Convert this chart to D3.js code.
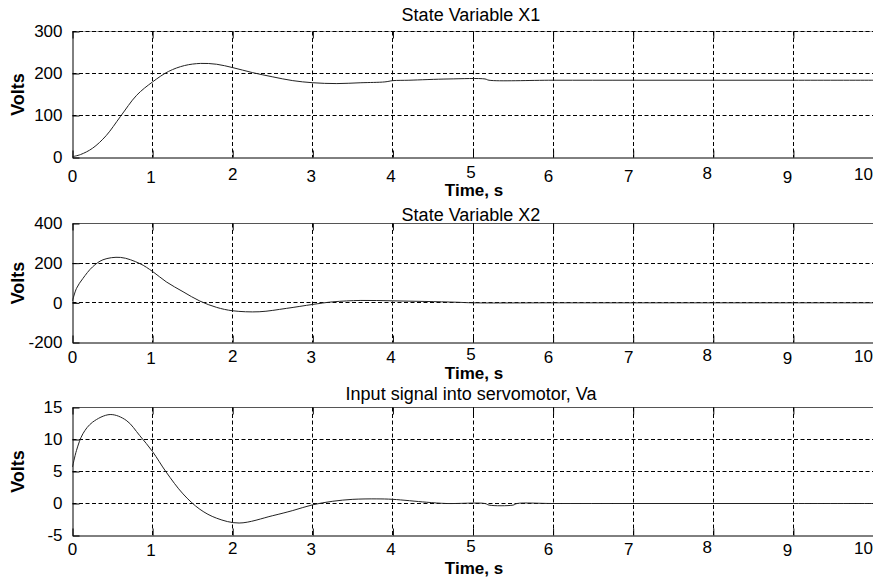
<!DOCTYPE html>
<html>
<head>
<meta charset="utf-8">
<script src="https://cdn.jsdelivr.net/npm/d3@7"></script>
<style>
  body { margin: 0; background: #fff; }
  text { font-family: "Liberation Sans", Arial, sans-serif; fill: #000; }
</style>
</head>
<body>
<div id="chart"></div>
<script>
// values
var timeTicks = [0, 1, 2, 3, 4, 5, 6, 7, 8, 9, 10];

var x1Time  = [0, 0.1, 0.25, 0.42, 0.6, 0.8, 1.0, 1.2, 1.4, 1.6, 1.8, 2.0, 2.25, 2.5, 2.75, 3.0, 3.3, 3.6, 3.9, 4.0, 4.2, 4.7, 5.15, 5.2, 6, 7, 8, 9, 10];
var x1Volts = [2, 7, 22, 52, 98, 148, 180, 205, 219, 224, 222, 214, 202, 192, 183, 178, 176, 178, 180, 183, 184, 187, 187, 184, 184, 184, 184, 184, 184];
var x1Ticks = [0, 100, 200, 300];

var x2Time  = [0, 0.05, 0.13, 0.25, 0.38, 0.6, 0.84, 1.0, 1.17, 1.38, 1.59, 1.8, 2.0, 2.33, 2.67, 3.0, 3.25, 3.6, 4.0, 4.4, 4.8, 5.0, 6, 7, 8, 9, 10];
var x2Volts = [10, 73, 123, 181, 217, 229, 198, 158, 106, 56, 9, -23, -40, -45, -28, -8, 5, 12, 10, 7, 3, 0, 0, 0, 0, 0, 0];
var x2Ticks = [-200, 0, 200, 400];

var vaTime  = [0, 0.05, 0.13, 0.25, 0.47, 0.67, 0.84, 1.0, 1.17, 1.38, 1.59, 1.8, 2.08, 2.5, 2.75, 3.0, 3.25, 3.5, 3.8, 4.0, 4.42, 4.67, 5.15, 5.2, 5.5, 5.55, 6, 7, 8, 9, 10];
var vaVolts = [5.7, 8.3, 10.9, 12.7, 13.9, 13.0, 10.6, 8.1, 4.9, 1.5, -0.9, -2.3, -3.05, -1.9, -1.1, -0.2, 0.35, 0.65, 0.72, 0.65, 0.2, 0, 0, -0.25, -0.25, 0, 0, 0, 0, 0, 0];
var vaTicks = [-5, 0, 5, 10, 15];

var titles = ["State Variable X1", "State Variable X2", "Input signal into servomotor, Va"];

// small label shifts seen in the reference (scanned figure)
var labelDx = [0, -1.5, 0, -1.5, -2, -2, -4.5, -4.5, -6, -6, -10];
var labelDy = [0, 1, -1.5, 0, 0, -3.5, 0, 0, -2.5, 1, -1.5];

var width = 873, height = 579;
var svg = d3.select("#chart").append("svg")
    .attr("width", width)
    .attr("height", height);

var x = d3.scaleLinear().domain([0, 10]).range([72.5, 873.5]);

function zip(t, v) { return t.map(function (d, i) { return { t: d, v: v[i] } }) }

var panels = [
    { title: titles[0], data: zip(x1Time, x1Volts), ticks: x1Ticks, top: 31.5, bottom: 157.5, titleY: 21, labY: 181.5, timeY: 195.5, topGrid: true },
    { title: titles[1], data: zip(x2Time, x2Volts), ticks: x2Ticks, top: 223.5, bottom: 342.5, titleY: 221, labY: 363, timeY: 378.5, topGrid: false },
    { title: titles[2], data: zip(vaTime, vaVolts), ticks: vaTicks, top: 407.5, bottom: 535.5, titleY: 399.5, labY: 555, timeY: 573.5, topGrid: false }
];

panels.forEach(function (p) {
    var ext = d3.extent(p.ticks);
    var y = d3.scaleLinear().domain(ext).range([p.bottom, p.top]);
    var g = svg.append("g");

    // top border
    g.append("line")
        .attr("x1", x(0)).attr("x2", width + 2)
        .attr("y1", p.top).attr("y2", p.top)
        .attr("stroke", p.topGrid ? "#aaa" : "#555")
        .attr("stroke-width", 1);

    // grid
    var hTicks = p.ticks.filter(function (d) { return d != ext[0] && (d != ext[1] || p.topGrid) });
    g.selectAll(".hgrid").data(hTicks).enter().append("line")
        .attr("x1", x(0)).attr("x2", width + 2)
        .attr("y1", function (d) { return Math.round(y(d) - 0.5) + 0.5 })
        .attr("y2", function (d) { return Math.round(y(d) - 0.5) + 0.5 })
        .attr("stroke", "#000")
        .attr("stroke-width", 1)
        .attr("stroke-dasharray", "4,2.5");

    g.selectAll(".vgrid").data(timeTicks.slice(1)).enter().append("line")
        .attr("x1", function (d) { return Math.round(x(d) - 0.5) + 0.5 })
        .attr("x2", function (d) { return Math.round(x(d) - 0.5) + 0.5 })
        .attr("y1", p.top).attr("y2", p.bottom)
        .attr("stroke", "#000")
        .attr("stroke-width", 1)
        .attr("stroke-dasharray", "4,2.5");

    // inward ticks, bottom + top
    g.append("g")
        .attr("transform", "translate(0," + p.bottom + ")")
        .call(d3.axisBottom(x).tickValues(timeTicks).tickSize(-7).tickSizeOuter(0).tickFormat(""))
        .call(function (a) { a.selectAll("line,path").attr("stroke", "#000") });
    g.append("g")
        .attr("transform", "translate(0," + p.top + ")")
        .call(d3.axisTop(x).tickValues(timeTicks).tickSize(-7).tickSizeOuter(0).tickFormat(""))
        .call(function (a) { a.select("path").remove(); a.selectAll("line").attr("stroke", "#000") });

    // left axis with labels (plain hyphen for negatives, like the original)
    g.append("g")
        .attr("transform", "translate(" + x(0) + ",0)")
        .call(d3.axisLeft(y).tickValues(p.ticks).tickSize(-7).tickSizeOuter(0).tickPadding(10)
            .tickFormat(function (d) { return String(d) }))
        .call(function (a) {
            a.selectAll("line,path").attr("stroke", "#000");
            a.selectAll("text")
                .style("font-family", "'Liberation Sans', Arial, sans-serif")
                .style("font-size", "17px")
                .attr("fill", "#000");
        });

    // x tick labels
    g.selectAll(".xlab").data(timeTicks).enter().append("text")
        .attr("x", function (d, i) { return x(d) + labelDx[i] })
        .attr("y", function (d, i) { return p.labY + labelDy[i] })
        .attr("text-anchor", "middle")
        .style("font-size", "17px")
        .text(function (d) { return d });

    // curve
    var line = d3.line()
        .x(function (d) { return x(d.t) })
        .y(function (d) { return y(d.v) })
        .curve(d3.curveCatmullRom.alpha(0.5));
    g.append("path")
        .datum(p.data)
        .attr("d", line)
        .attr("fill", "none")
        .attr("stroke", "#222")
        .attr("stroke-width", 1);

    // texts
    g.append("text")
        .attr("x", 471).attr("y", p.titleY)
        .attr("text-anchor", "middle")
        .style("font-size", "18px")
        .text(p.title);
    g.append("text")
        .attr("x", 474).attr("y", p.timeY)
        .attr("text-anchor", "middle")
        .style("font-size", "17px")
        .style("font-weight", "bold")
        .text("Time, s");
    g.append("text")
        .attr("transform", "translate(24," + ((p.top + p.bottom) / 2) + ") rotate(-90)")
        .attr("text-anchor", "middle")
        .style("font-size", "18px")
        .style("font-weight", "bold")
        .text("Volts");
});
</script>
</body>
</html>
